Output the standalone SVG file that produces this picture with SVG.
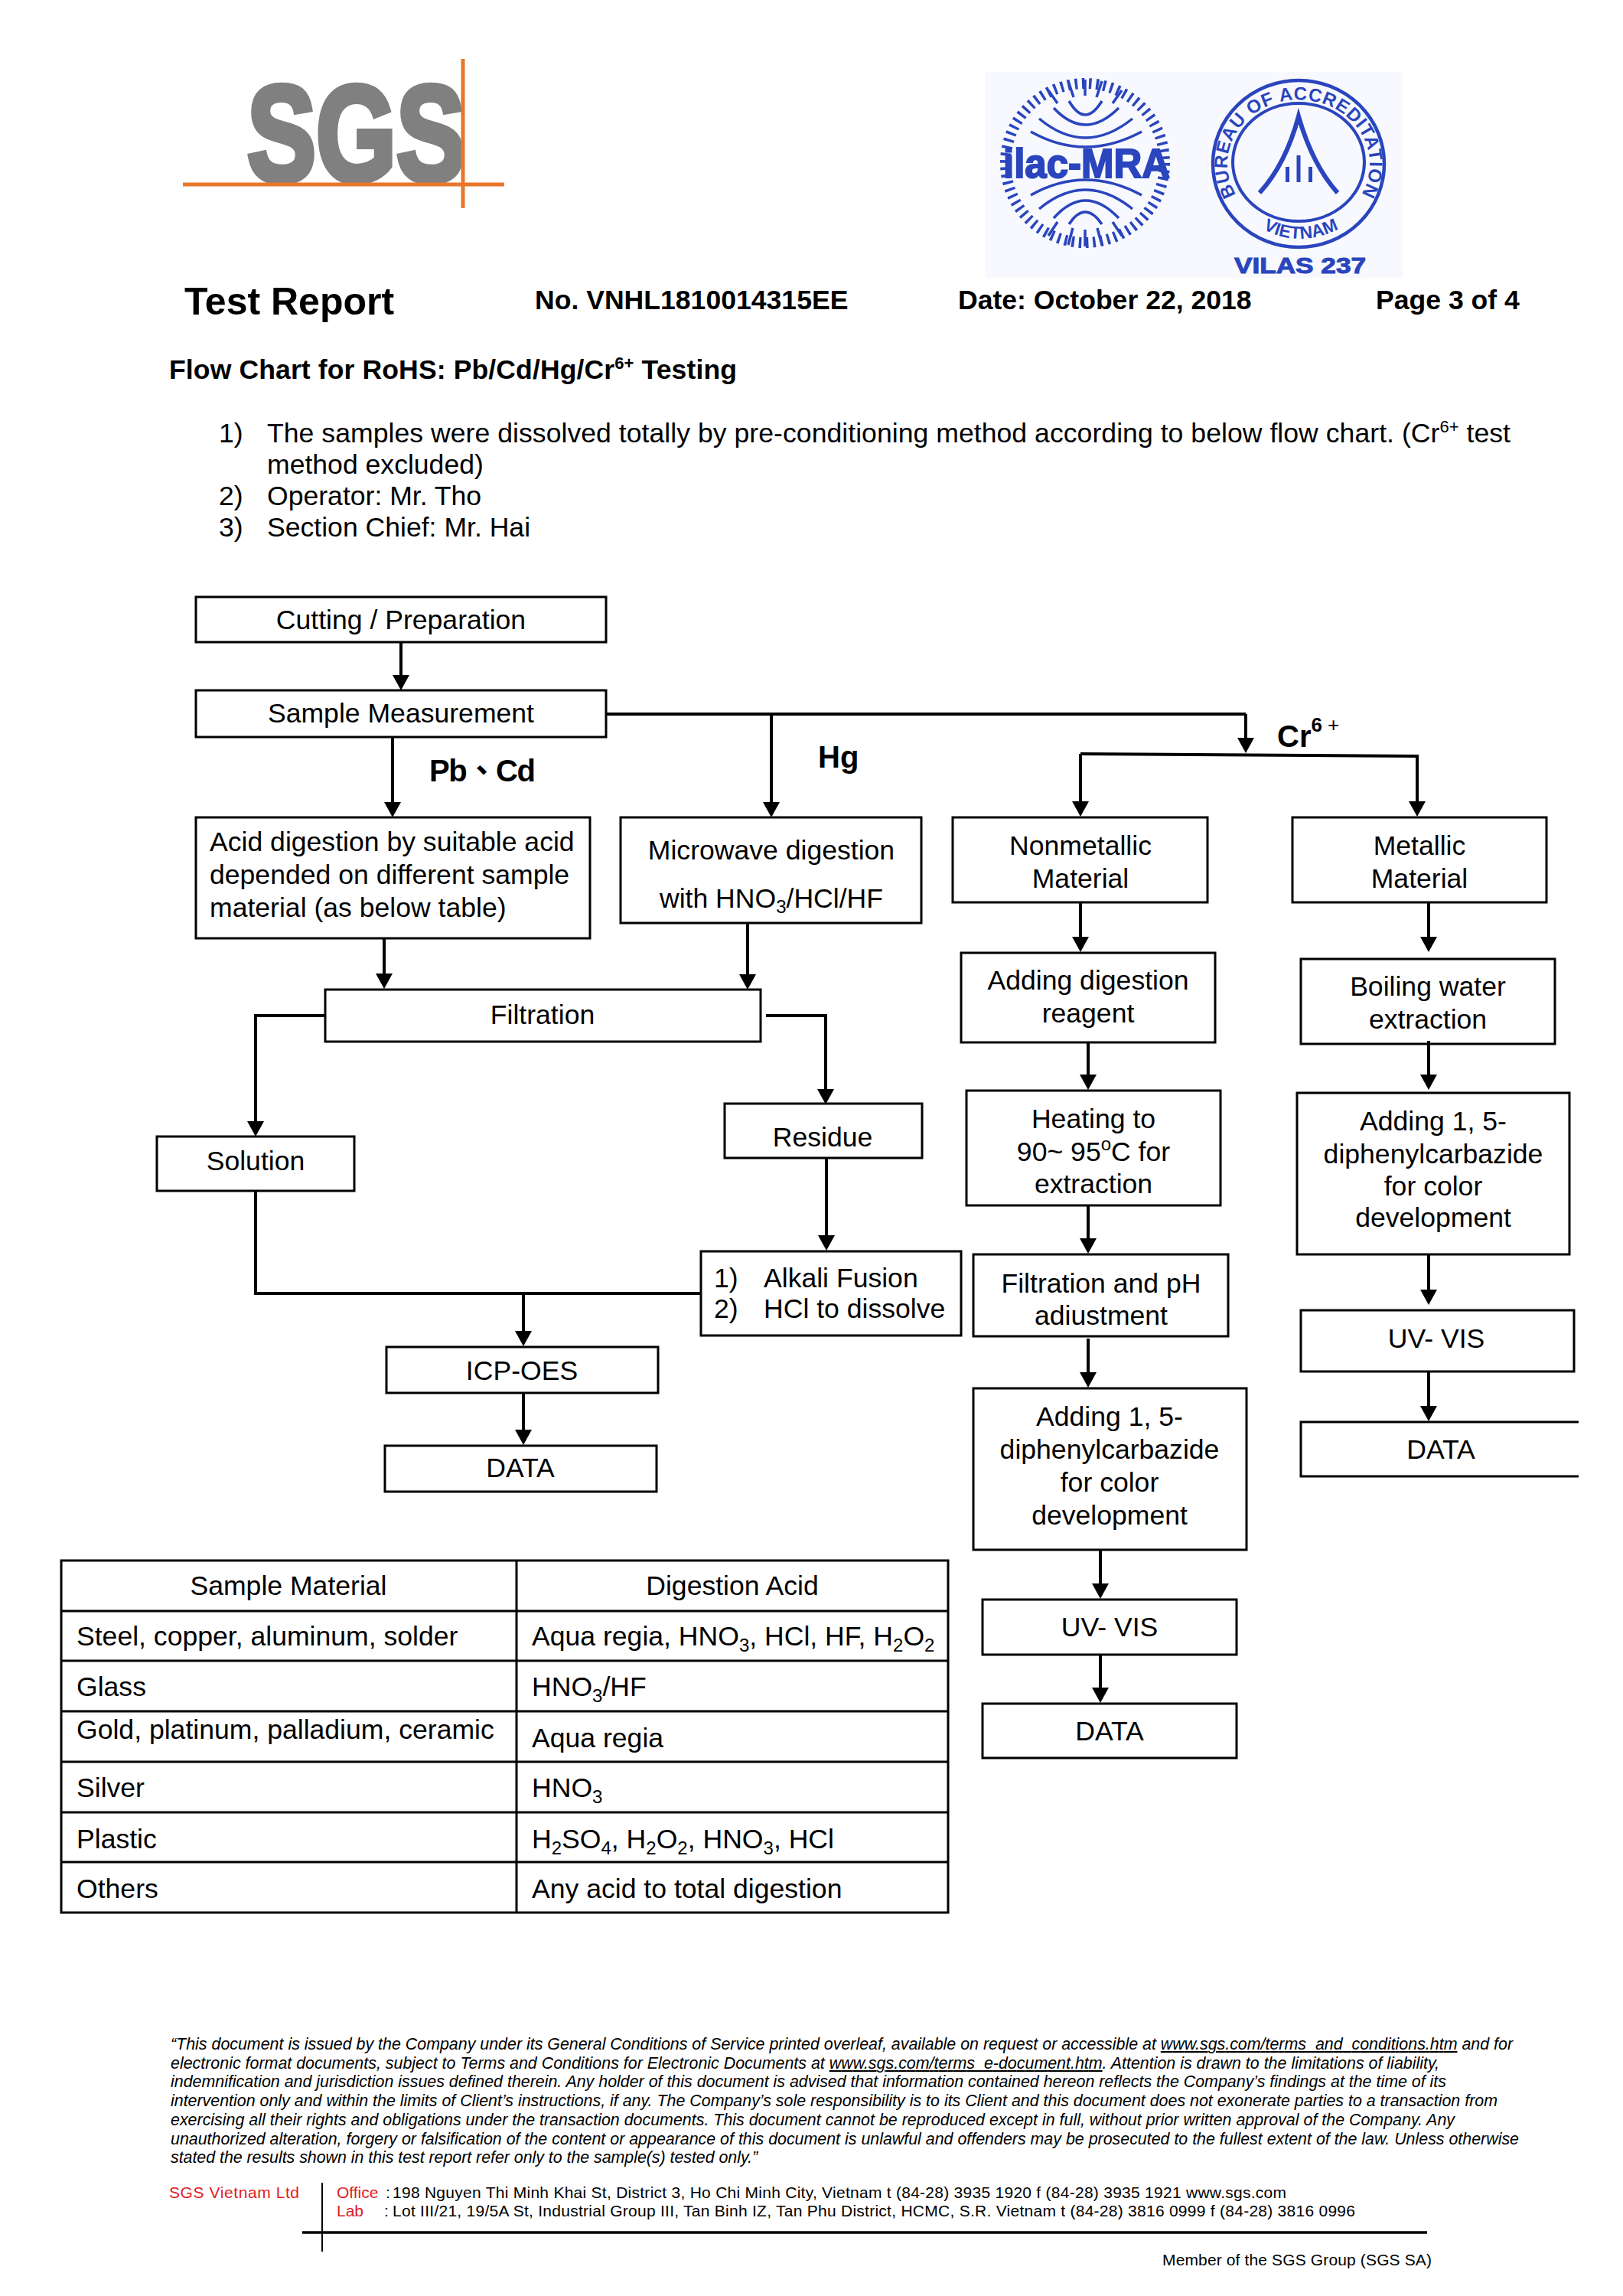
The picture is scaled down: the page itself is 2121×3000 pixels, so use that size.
<svg xmlns="http://www.w3.org/2000/svg" width="2121" height="3000" viewBox="0 0 2121 3000">
<style>
text{font-family:"Liberation Sans",Arial,sans-serif;fill:#000}
.box{fill:none;stroke:#000;stroke-width:3}
.c{font-size:35.6px;text-anchor:middle}
.l{font-size:35.6px}
.b{font-weight:bold}
.lab{font-size:40px;font-weight:bold}
.hd{font-size:35.6px;font-weight:bold}
.li{font-size:35.6px}
.sup{font-size:24px}
.sub{font-size:24px}
.cell{font-size:35.6px}
.cellc{font-size:35.6px;text-anchor:middle}
.fine{font-size:21.4px;font-style:italic}
.addr{font-size:21px}
.wire{fill:none;stroke:#000;stroke-width:4}
.arr{marker-end:url(#ah)}
.grid{stroke:#000;stroke-width:3;fill:none}
.bl{fill:#2a45bd}
.bs{fill:none;stroke:#2a45bd}
</style>
<defs>
<marker id="ah" markerUnits="userSpaceOnUse" markerWidth="20" markerHeight="22" refX="16" refY="11" orient="auto"><path d="M0,0L20,11L0,22Z" fill="#000"/></marker>
<path id="rimPath" d="M1615,254A93 84 0 1 1 1779,254"/>
<path id="vnPath" d="M1646,297Q1698,327 1754,297"/>
</defs>
<rect width="2121" height="3000" fill="#fff"/>

<g id="sgs-logo">
<text x="323" y="236" font-size="178" font-weight="bold" style="fill:#808080;stroke:#808080;stroke-width:8" textLength="285" lengthAdjust="spacingAndGlyphs">SGS</text>
<line x1="239" y1="241" x2="659" y2="241" stroke="#e8772a" stroke-width="5"/>
<line x1="605" y1="77" x2="605" y2="272" stroke="#e8772a" stroke-width="5"/>
</g>

<g id="accreditation-logos">
<rect x="1287" y="94" width="546" height="269" fill="#f8f9fe"/>
<g id="ilac">
<circle cx="1418" cy="213" r="104" class="bs" stroke-width="14" stroke-dasharray="3.5 5.835"/>
<g class="bs" stroke-width="3.5">
<path d="M1397,132Q1418,168 1440,132M1377,141Q1418,185 1462,141M1358,155Q1418,205 1480,155M1347,172Q1418,212 1492,172"/>
<path d="M1347,255Q1418,215 1492,255M1358,273Q1418,223 1480,273M1377,285Q1418,239 1462,285M1397,293Q1418,261 1440,293"/>
<path d="M1418,104V125M1396,106L1403,127M1440,106L1433,127M1370,118L1382,135M1466,118L1454,135M1418,322V300M1396,320L1402,298M1440,320L1434,298M1370,308L1382,290M1466,308L1454,290"/>
</g>
<text x="1311" y="232" font-size="54" font-weight="bold" style="fill:#2a45bd;stroke:#2a45bd;stroke-width:2" textLength="218" lengthAdjust="spacingAndGlyphs">ilac-MRA</text>
</g>
<g id="vilas">
<ellipse cx="1697" cy="214" rx="112" ry="109" class="bs" stroke-width="4.5"/>
<ellipse cx="1697" cy="212" rx="86" ry="77" class="bs" stroke-width="4"/>
<text font-size="24" font-weight="bold" letter-spacing="0.8" style="fill:#2a45bd"><textPath href="#rimPath" startOffset="50%" text-anchor="middle">BUREAU OF ACCREDITATION</textPath></text>
<text font-size="23" font-weight="bold" style="fill:#2a45bd"><textPath href="#vnPath" startOffset="50%" text-anchor="middle">VIETNAM</textPath></text>
<path d="M1646,252Q1680,215 1697,152Q1715,215 1748,252" class="bs" stroke-width="6"/>
<rect x="1680" y="218" width="5" height="20" class="bl"/>
<rect x="1694.5" y="203" width="5" height="35" class="bl"/>
<rect x="1710" y="218" width="5" height="20" class="bl"/>
<text x="1613" y="357" font-size="29" font-weight="bold" style="fill:#2a45bd;stroke:#2a45bd;stroke-width:1" textLength="172" lengthAdjust="spacingAndGlyphs">VILAS 237</text>
</g>
</g>

<g id="header">
<text x="241" y="411" font-size="50" class="b">Test Report</text>
<text x="699" y="404" class="hd">No. VNHL1810014315EE</text>
<text x="1252" y="404" class="hd">Date: October 22, 2018</text>
<text x="1798" y="404" class="hd">Page 3 of 4</text>
<text x="221" y="495" class="hd" textLength="742">Flow Chart for RoHS: Pb/Cd/Hg/Cr<tspan font-size="22" dy="-13">6+</tspan><tspan dy="13"> Testing</tspan></text>
<text x="286" y="578" class="li">1)</text>
<text x="349" y="578" class="li" textLength="1625">The samples were dissolved totally by pre-conditioning method according to below flow chart. (Cr<tspan font-size="22" dy="-13">6+</tspan><tspan dy="13"> test</tspan></text>
<text x="349" y="619" class="li">method excluded)</text>
<text x="286" y="660" class="li">2)</text>
<text x="349" y="660" class="li">Operator: Mr. Tho</text>
<text x="286" y="701" class="li">3)</text>
<text x="349" y="701" class="li">Section Chief: Mr. Hai</text>
</g>

<g id="connectors">
<line class="wire arr" x1="524" y1="839" x2="524" y2="898"/>
<line class="wire arr" x1="513" y1="963" x2="513" y2="1064"/>
<line class="wire" x1="792" y1="933" x2="1628" y2="933"/>
<line class="wire arr" x1="1008" y1="933" x2="1008" y2="1064"/>
<line class="wire arr" x1="1628" y1="933" x2="1628" y2="980"/>
<path class="wire" d="M1412,985L1854,988"/>
<line class="wire arr" x1="1412" y1="985" x2="1412" y2="1063"/>
<line class="wire arr" x1="1852" y1="988" x2="1852" y2="1063"/>
<line class="wire arr" x1="502" y1="1226" x2="502" y2="1288"/>
<line class="wire arr" x1="977" y1="1206" x2="977" y2="1289"/>
<path class="wire arr" d="M425,1327H334V1481"/>
<path class="wire arr" d="M1001,1327H1079V1439"/>
<line class="wire arr" x1="1080" y1="1513" x2="1080" y2="1630"/>
<path class="wire" d="M334,1556V1690H916"/>
<line class="wire arr" x1="684" y1="1690" x2="684" y2="1755"/>
<line class="wire arr" x1="684" y1="1820" x2="684" y2="1884"/>
<line class="wire arr" x1="1412" y1="1179" x2="1412" y2="1240"/>
<line class="wire arr" x1="1422" y1="1362" x2="1422" y2="1420"/>
<line class="wire arr" x1="1422" y1="1575" x2="1422" y2="1634"/>
<line class="wire arr" x1="1422" y1="1749" x2="1422" y2="1809"/>
<line class="wire arr" x1="1438" y1="2025" x2="1438" y2="2085"/>
<line class="wire arr" x1="1438" y1="2162" x2="1438" y2="2221"/>
<line class="wire arr" x1="1867" y1="1179" x2="1867" y2="1240"/>
<line class="wire arr" x1="1867" y1="1360" x2="1867" y2="1420"/>
<line class="wire arr" x1="1867" y1="1639" x2="1867" y2="1701"/>
<line class="wire arr" x1="1867" y1="1792" x2="1867" y2="1853"/>
</g>

<g id="n-cutting"><rect class="box" x="256" y="780" width="536" height="59"/><text class="c" x="524" y="822">Cutting / Preparation</text></g>
<g id="n-sample"><rect class="box" x="256" y="902" width="536" height="61"/><text class="c" x="524" y="944">Sample Measurement</text></g>
<g id="lab-pbcd"><text class="lab" x="561" y="1021" textLength="139" style="font-family:'Liberation Sans','Noto Sans CJK TC',sans-serif">Pb、Cd</text></g>
<g id="lab-hg"><text class="lab" x="1069" y="1003">Hg</text></g>
<g id="lab-cr"><text class="lab" x="1669" y="976">Cr<tspan font-size="26" dy="-20">6</tspan><tspan font-size="26" font-weight="normal" dx="7">+</tspan></text></g>
<g id="n-acid"><rect class="box" x="256" y="1068" width="515" height="158"/><text class="l" x="274" y="1112">Acid digestion by suitable acid</text><text class="l" x="274" y="1155">depended on different sample</text><text class="l" x="274" y="1198">material (as below table)</text></g>
<g id="n-microwave"><rect class="box" x="811" y="1068" width="393" height="138"/><text class="c" x="1008" y="1123">Microwave digestion</text><text class="c" x="1008" y="1186">with HNO<tspan class="sub" dy="7">3</tspan><tspan dy="-7">/HCl/HF</tspan></text></g>
<g id="n-filtration"><rect class="box" x="425" y="1293" width="569" height="68"/><text class="c" x="709" y="1338">Filtration</text></g>
<g id="n-solution"><rect class="box" x="205" y="1485" width="258" height="71"/><text class="c" x="334" y="1529">Solution</text></g>
<g id="n-residue"><rect class="box" x="947" y="1442" width="258" height="71"/><text class="c" x="1075" y="1498">Residue</text></g>
<g id="n-alkali"><rect class="box" x="916" y="1635" width="340" height="110"/><text class="l" x="933" y="1682">1)</text><text class="l" x="998" y="1682">Alkali Fusion</text><text class="l" x="933" y="1722">2)</text><text class="l" x="998" y="1722">HCl to dissolve</text></g>
<g id="n-icp"><rect class="box" x="505" y="1760" width="355" height="60"/><text class="c" x="682" y="1803">ICP-OES</text></g>
<g id="n-data1"><rect class="box" x="503" y="1889" width="355" height="60"/><text class="c" x="680" y="1930">DATA</text></g>

<g id="n-nonmetallic"><rect class="box" x="1245" y="1068" width="333" height="111"/><text class="c" x="1412" y="1117">Nonmetallic</text><text class="c" x="1412" y="1160">Material</text></g>
<g id="n-metallic"><rect class="box" x="1689" y="1068" width="332" height="111"/><text class="c" x="1855" y="1117">Metallic</text><text class="c" x="1855" y="1160">Material</text></g>
<g id="n-reagent"><rect class="box" x="1256" y="1245" width="332" height="117"/><text class="c" x="1422" y="1293">Adding digestion</text><text class="c" x="1422" y="1336">reagent</text></g>
<g id="n-boiling"><rect class="box" x="1700" y="1253" width="332" height="111"/><text class="c" x="1866" y="1301">Boiling water</text><text class="c" x="1866" y="1344">extraction</text></g>
<g id="n-heating"><rect class="box" x="1263" y="1425" width="332" height="150"/><text class="c" x="1429" y="1474">Heating to</text><text class="c" x="1429" y="1517">90~ 95<tspan class="sup" dy="-14">o</tspan><tspan dy="14">C for</tspan></text><text class="c" x="1429" y="1559">extraction</text></g>
<g id="n-addr"><rect class="box" x="1695" y="1428" width="356" height="211"/><text class="c" x="1873" y="1477">Adding 1, 5-</text><text class="c" x="1873" y="1520">diphenylcarbazide</text><text class="c" x="1873" y="1562">for color</text><text class="c" x="1873" y="1603">development</text></g>
<g id="n-filtph"><rect class="box" x="1272" y="1639" width="333" height="107"/><text class="c" x="1439" y="1689">Filtration and pH</text><text class="c" x="1439" y="1731">adiustment</text></g>
<g id="n-uvr"><rect class="box" x="1700" y="1712" width="357" height="80"/><text class="c" x="1877" y="1761">UV- VIS</text></g>
<g id="n-datar"><path class="box" d="M2063,1858H1700V1929H2063"/><text class="c" x="1883" y="1906">DATA</text></g>
<g id="n-addl"><rect class="box" x="1272" y="1814" width="357" height="211"/><text class="c" x="1450" y="1863">Adding 1, 5-</text><text class="c" x="1450" y="1906">diphenylcarbazide</text><text class="c" x="1450" y="1949">for color</text><text class="c" x="1450" y="1992">development</text></g>
<g id="n-uvl"><rect class="box" x="1284" y="2090" width="332" height="72"/><text class="c" x="1450" y="2138">UV- VIS</text></g>
<g id="n-datal"><rect class="box" x="1284" y="2226" width="332" height="71"/><text class="c" x="1450" y="2274">DATA</text></g>

<g id="table">
<path class="grid" d="M80,2039H1239V2499H80ZM675,2039V2499M80,2105H1239M80,2170H1239M80,2236H1239M80,2302H1239M80,2368H1239M80,2433H1239"/>
<text class="cellc" x="377" y="2084">Sample Material</text>
<text class="cellc" x="957" y="2084">Digestion Acid</text>
<text class="cell" x="100" y="2150">Steel, copper, aluminum, solder</text>
<text class="cell" x="695" y="2150">Aqua regia, HNO<tspan class="sub" dy="8">3</tspan><tspan dy="-8">, HCl, HF, H</tspan><tspan class="sub" dy="8">2</tspan><tspan dy="-8">O</tspan><tspan class="sub" dy="8">2</tspan></text>
<text class="cell" x="100" y="2216">Glass</text>
<text class="cell" x="695" y="2216">HNO<tspan class="sub" dy="8">3</tspan><tspan dy="-8">/HF</tspan></text>
<text class="cell" x="100" y="2272">Gold, platinum, palladium, ceramic</text>
<text class="cell" x="695" y="2283">Aqua regia</text>
<text class="cell" x="100" y="2348">Silver</text>
<text class="cell" x="695" y="2348">HNO<tspan class="sub" dy="8">3</tspan></text>
<text class="cell" x="100" y="2415">Plastic</text>
<text class="cell" x="695" y="2415">H<tspan class="sub" dy="8">2</tspan><tspan dy="-8">SO</tspan><tspan class="sub" dy="8">4</tspan><tspan dy="-8">, H</tspan><tspan class="sub" dy="8">2</tspan><tspan dy="-8">O</tspan><tspan class="sub" dy="8">2</tspan><tspan dy="-8">, HNO</tspan><tspan class="sub" dy="8">3</tspan><tspan dy="-8">, HCl</tspan></text>
<text class="cell" x="100" y="2480">Others</text>
<text class="cell" x="695" y="2480">Any acid to total digestion</text>
</g>

<g id="footer">
<text class="fine" x="223" y="2678" textLength="1754">“This document is issued by the Company under its General Conditions of Service printed overleaf, available on request or accessible at <tspan text-decoration="underline">www.sgs.com/terms_and_conditions.htm</tspan> and for</text>
<text class="fine" x="223" y="2703" textLength="1658">electronic format documents, subject to Terms and Conditions for Electronic Documents at <tspan text-decoration="underline">www.sgs.com/terms_e-document.htm</tspan>. Attention is drawn to the limitations of liability,</text>
<text class="fine" x="223" y="2727" textLength="1667">indemnification and jurisdiction issues defined therein. Any holder of this document is advised that information contained hereon reflects the Company’s findings at the time of its</text>
<text class="fine" x="223" y="2752" textLength="1734">intervention only and within the limits of Client’s instructions, if any. The Company’s sole responsibility is to its Client and this document does not exonerate parties to a transaction from</text>
<text class="fine" x="223" y="2777" textLength="1678">exercising all their rights and obligations under the transaction documents. This document cannot be reproduced except in full, without prior written approval of the Company. Any</text>
<text class="fine" x="223" y="2802" textLength="1762">unauthorized alteration, forgery or falsification of the content or appearance of this document is unlawful and offenders may be prosecuted to the fullest extent of the law. Unless otherwise</text>
<text class="fine" x="223" y="2826" textLength="767">stated the results shown in this test report refer only to the sample(s) tested only.”</text>
<text class="addr" style="fill:#e01b24" x="221" y="2872" textLength="170">SGS Vietnam  Ltd</text>
<text class="addr" style="fill:#e01b24" x="440" y="2872">Office</text>
<text class="addr" x="504" y="2872">:</text>
<text class="addr" x="513" y="2872" textLength="1168">198 Nguyen Thi Minh Khai St, District 3, Ho Chi Minh City, Vietnam t (84-28) 3935 1920 f (84-28) 3935 1921  www.sgs.com</text>
<text class="addr" style="fill:#e01b24" x="440" y="2896">Lab</text>
<text class="addr" x="502" y="2896">:</text>
<text class="addr" x="513" y="2896" textLength="1258">Lot III/21, 19/5A St, Industrial Group III, Tan Binh IZ, Tan Phu District, HCMC, S.R. Vietnam t (84-28) 3816 0999  f (84-28) 3816 0996</text>
<line x1="421" y1="2852" x2="421" y2="2942" stroke="#000" stroke-width="2"/>
<line x1="395" y1="2917" x2="1865" y2="2917" stroke="#000" stroke-width="3.5"/>
<text class="addr" x="1519" y="2960" textLength="352">Member of the SGS Group (SGS SA)</text>
</g>
</svg>
